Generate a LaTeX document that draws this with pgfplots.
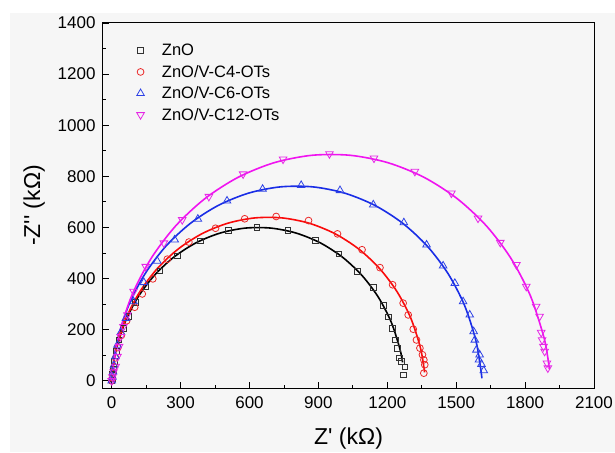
\documentclass[border=0pt]{standalone}
\usepackage{pgfplots}
\pgfplotsset{compat=1.18}
\usepackage{fontspec}
\newfontfamily\arial{Liberation Sans}
\definecolor{bgpanel}{RGB}{246,246,246}
\definecolor{lnblack}{RGB}{0,0,0}
\definecolor{lnred}{RGB}{250,10,10}
\definecolor{lnblue}{RGB}{25,45,230}
\definecolor{lnmag}{RGB}{240,20,240}
\definecolor{mkblack}{RGB}{50,50,50}
\definecolor{mkred}{RGB}{235,40,40}
\definecolor{mkblue}{RGB}{45,65,230}
\definecolor{mkmag}{RGB}{230,40,230}

\begin{document}
\begin{tikzpicture}
\useasboundingbox (-103pt,-64pt) rectangle (512pt,388pt);
\fill[bgpanel] (-93pt,-64pt) rectangle (512pt,375pt);
\begin{axis}[
  width=491pt, height=365pt, scale only axis,
  xmin=-38, xmax=2100, ymin=-28, ymax=1400,
  xtick={0,300,...,2100}, ytick={0,200,...,1400},
  minor x tick num=1, minor y tick num=1,
  tick pos=left, tick align=inside,
  major tick length=6pt, minor tick length=3.5pt,
  axis line style={line width=1pt},
  tick style={line width=0.9pt, black},
  scaled ticks=false,
  /pgf/number format/1000 sep={},
  /pgf/number format/assume math mode=true,
  tick label style={font=\arial\fontsize{17}{20}\selectfont},
  yticklabel style={xshift=-4pt},
  xticklabel style={yshift=-5pt},
  xlabel={Z' (kΩ)},
  ylabel={-Z'' (kΩ)},
  label style={font=\arial\fontsize{23}{26}\selectfont},
  xlabel style={at={(axis description cs:0.5,-0.156)}, anchor=base},
  ylabel style={at={(axis description cs:-0.128,0.5)}, anchor=base},
  legend style={draw=none, fill=none, inner sep=0pt, row sep=4pt,
    font=\arial\fontsize{16.5}{20}\selectfont,
    at={(axis description cs:0.061,0.948)}, anchor=north west,
    cells={anchor=west}},
  legend image code/.code={\path (0pt,0pt) (26pt,0pt);
    \draw[mark repeat=2,mark phase=2,#1]
    plot coordinates {(0pt,0pt) (7pt,0pt) (26pt,0pt)};},
]
% fitted lines
\addplot[lnblack, line width=1.6pt, smooth, forget plot] coordinates {
(0,0.3)(8.5,72.2)(20.6,126.6)(58.6,231.2)(114.3,327.6)(185.9,412.9)(271.2,484.5)
(367.6,540.2)(472.2,578.2)(581.8,597.6)(693.2,597.6)(802.8,578.2)(907.4,540.2)
(1003.8,484.5)(1089.1,412.9)(1160.7,327.6)(1216.4,231.2)(1254.4,126.6)(1266.5,72.2)};
\addplot[lnred, line width=1.6pt, smooth, forget plot] coordinates {
(0,0)(5.3,51.3)(21.9,133.1)(62.7,245.1)(122.3,348.4)(198.9,439.7)(290.2,516.3)
(393.5,575.9)(505.5,616.7)(622.9,637.4)(742.1,637.4)(859.5,616.7)(971.5,575.9)
(1074.8,516.3)(1166.1,439.7)(1242.7,348.4)(1302.3,245.1)(1343.1,133.1)(1359.7,51.3)(1362.0,33.5)};
\addplot[lnblue, line width=1.6pt, smooth, forget plot] coordinates {
(0,0)(6.6,68.0)(26.3,164.5)(74.3,296.5)(144.6,418.2)(234.9,525.9)(342.6,616.2)
(464.3,686.5)(596.3,734.5)(734.7,758.9)(875.3,758.9)(1013.7,734.5)(1145.7,686.5)
(1267.4,616.2)(1375.1,525.9)(1465.4,418.2)(1535.7,296.5)(1583.7,164.5)(1603.4,68.0)(1612,10)};
\addplot[lnmag, line width=1.6pt, smooth, forget plot] coordinates {
(0,0)(6.6,61.6)(29.9,176.2)(87.0,333.0)(170.5,477.6)(277.8,605.5)(405.7,712.8)
(550.3,796.3)(707.1,853.4)(871.5,882.4)(1038.5,882.4)(1202.9,853.4)(1359.7,796.3)
(1504.3,712.8)(1632.2,605.5)(1739.5,477.6)(1823.0,333.0)(1880.1,176.2)(1898.2,94.6)(1905.6,45.0)};

% measured points
\addplot[only marks, mark=square, mark size=2.8pt, mkblack, line width=0.8pt] coordinates {
(0,0)(2,10)(4,25)(7,45)(12,75)(20,115)(32,160)(50,205)(75,252)(104,308)(148,367)
(210,430)(285,489)(386,548)(507,588)(633,600)(767,588)(886,549)(990,496)(1069,429)
(1139,365)(1182,295)(1204,250)(1221,206)(1234,160)(1243,128)(1252,89)(1262,76)(1277,54)(1269,23)};
\addlegendentry{ZnO}
\addplot[only marks, mark=o, mark size=3.4pt, mkred, line width=0.8pt] coordinates {
(0,0)(3,12)(6,30)(10,55)(17,90)(27,130)(42,178)(65,235)(100,288)(133,340)(179,399)
(242,476)(336,543)(452,597)(579,634)(716,643)(857,627)(983,575)(1090,513)(1168,443)
(1223,376)(1269,304)(1291,258)(1313,202)(1327,160)(1342,128)(1353,102)(1359,82)(1363,63)(1359,30)};
\addlegendentry{ZnO/V-C4-OTs}
\addplot[only marks, mark=triangle, mark size=4.4pt, mkblue, line width=0.8pt] coordinates {
(0,0)(3,15)(6,35)(10,60)(16,95)(25,140)(40,190)(62,245)(95,310)(140,385)(198,469)
(274,552)(375,633)(502,704)(657,750)(825,765)(994,745)(1139,689)(1272,619)(1371,532)
(1443,450)(1494,382)(1530,310)(1559,258)(1576,193)(1581,160)(1588,121)(1602,102)(1599,82)(1610,65)(1620,40)};
\addlegendentry{ZnO/V-C6-OTs}
\addplot[only marks, mark=triangle, mark size=4.4pt, mark options={rotate=180}, mkmag, line width=0.8pt] coordinates {
(0,0)(3,15)(8,35)(17,56)(25,95)(32,134)(39,173)(51,212)(68,258)(95,350)(148,447)
(227,539)(307,630)(423,721)(572,809)(746,867)(948,888)(1142,871)(1320,819)(1479,734)
(1595,636)(1692,541)(1762,454)(1805,369)(1848,291)(1863,252)(1870,189)(1874,160)
(1880,134)(1885,115)(1895,69)(1899,50)};
\addlegendentry{ZnO/V-C12-OTs}
\end{axis}
\end{tikzpicture}
\end{document}
